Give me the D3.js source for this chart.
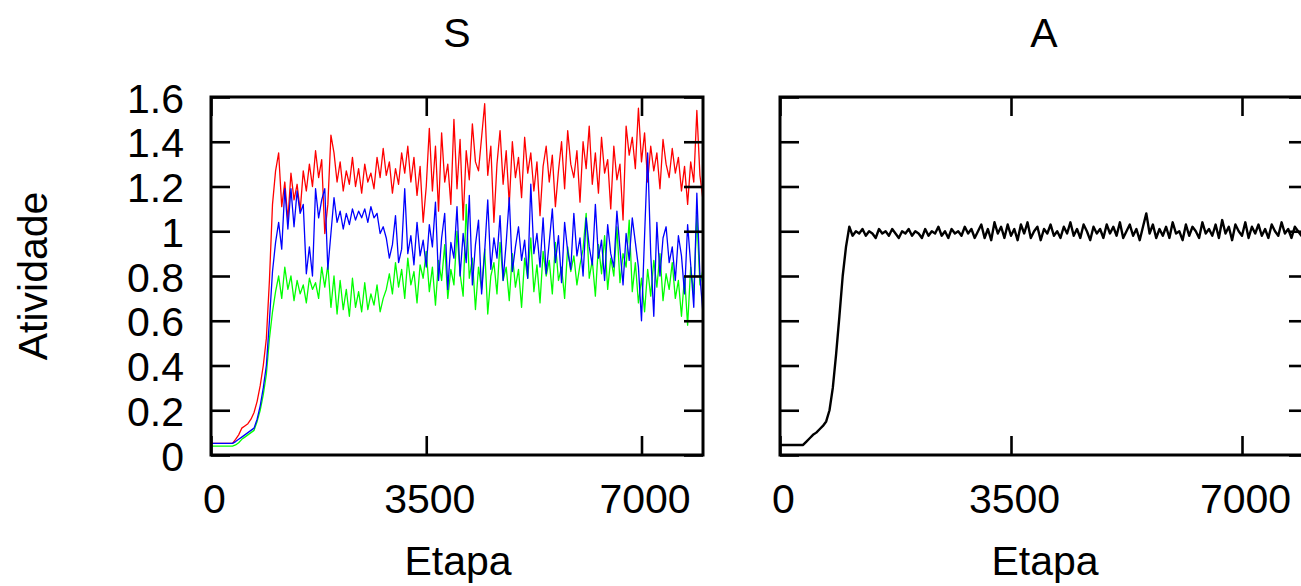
<!DOCTYPE html>
<html>
<head>
<meta charset="utf-8">
<script src="https://cdn.jsdelivr.net/npm/d3@7"></script>
<style>
	body { margin: 0; background: #fff; }
	text { font-family: 'Liberation Sans', Arial, sans-serif; }
</style>
</head>
<body>
<svg id="chart"></svg>
<script>
// Etapa sampled every 50 steps, 0 .. 8000
var etapaStep = 50;
var xTicks = [0, 3500, 7000];
var yTicks = [0, 0.2, 0.4, 0.6, 0.8, 1, 1.2, 1.4, 1.6];
var titles = ["S", "A"];

// panel S
var sRed = [0.052, 0.052, 0.052, 0.052, 0.052, 0.052, 0.052, 0.052, 0.07, 0.09,
	0.12, 0.13, 0.14, 0.16, 0.19, 0.24, 0.31, 0.40, 0.52, 0.78,
	1.12, 1.27, 1.35, 1.11, 1.22, 1.05, 1.26, 1.14, 1.21, 1.09,
	1.27, 1.18, 1.30, 1.20, 1.36, 1.24, 1.32, 0.99, 1.12, 1.43,
	1.35, 1.22, 1.31, 1.18, 1.27, 1.21, 1.33, 1.20, 1.28, 1.17,
	1.30, 1.22, 1.26, 1.19, 1.33, 1.24, 1.37, 1.25, 1.31, 1.17,
	1.28, 1.21, 1.35, 1.26, 1.38, 1.22, 1.33, 1.16, 1.29, 1.04,
	1.20, 1.46, 1.18, 1.38, 1.09, 1.44, 1.22, 1.30, 1.12, 1.50,
	1.19, 1.41, 1.05, 1.36, 1.23, 1.48, 1.31, 1.27, 1.42, 1.57,
	1.25, 1.38, 1.04, 1.30, 1.45, 1.21, 1.36, 1.12, 1.40, 1.24,
	1.33, 1.15, 1.42, 1.26, 1.35, 1.18, 1.31, 1.07, 1.29, 1.38,
	1.22, 1.34, 1.11, 1.27, 1.40, 1.19, 1.45, 1.30, 1.24, 1.36,
	1.13, 1.40, 1.28, 1.47, 1.21, 1.35, 1.17, 1.42, 1.26, 1.32,
	1.10, 1.38, 1.23, 1.30, 1.05, 1.47, 1.34, 1.42, 1.28, 1.55,
	1.31, 1.44, 1.22, 1.38, 1.27, 1.35, 1.19, 1.41, 1.30, 1.24,
	1.37, 1.26, 1.33, 1.18, 1.29, 1.12, 1.31, 1.22, 1.54, 1.25,
	1.14];

var sGreen = [0.040, 0.040, 0.040, 0.040, 0.040, 0.040, 0.040, 0.040, 0.045, 0.055,
	0.07, 0.08, 0.09, 0.10, 0.11, 0.15, 0.20, 0.27, 0.36, 0.52,
	0.64, 0.73, 0.80, 0.70, 0.84, 0.74, 0.80, 0.69, 0.78, 0.72,
	0.76, 0.68, 0.79, 0.74, 0.77, 0.70, 0.84, 0.75, 0.85, 0.66,
	0.80, 0.63, 0.78, 0.65, 0.74, 0.62, 0.79, 0.66, 0.73, 0.64,
	0.77, 0.65, 0.72, 0.67, 0.76, 0.64, 0.70, 0.74, 0.81, 0.72,
	0.86, 0.75, 0.83, 0.70, 0.88, 0.76, 0.82, 0.68, 0.85, 0.79,
	0.91, 0.73, 0.84, 0.67, 0.87, 0.78, 0.94, 0.70, 0.83, 0.76,
	1.00, 0.81, 0.71, 1.12, 0.79, 0.88, 0.65, 0.84, 0.74, 0.92,
	0.63, 0.80, 0.86, 0.72, 0.95, 0.78, 0.84, 0.69, 0.90, 0.75,
	0.83, 0.66, 0.88, 0.79, 0.97, 0.73, 0.85, 0.68, 0.91, 0.80,
	0.87, 0.72, 0.95, 0.78, 0.84, 0.70, 0.93, 0.82, 0.89, 0.76,
	0.85, 0.92, 1.08, 0.79, 0.87, 0.71, 0.94, 0.81, 0.98, 0.74,
	0.88, 0.80, 1.02, 0.77, 0.90, 0.84, 1.05, 0.73, 0.86, 0.68,
	0.79, 0.64, 0.83, 0.71, 0.87, 0.75, 0.90, 0.69, 0.81, 0.74,
	0.86, 0.70, 0.78, 0.62, 0.80, 0.58, 0.84, 0.72, 1.07, 0.76,
	0.83];

var sBlue = [0.052, 0.052, 0.052, 0.052, 0.052, 0.052, 0.052, 0.052, 0.06, 0.07,
	0.08, 0.09, 0.10, 0.11, 0.12, 0.16, 0.22, 0.30, 0.40, 0.60,
	0.82, 0.95, 1.04, 0.92, 1.19, 1.01, 1.19, 1.02, 1.18, 1.08,
	1.12, 0.81, 0.93, 0.80, 1.19, 1.06, 1.14, 1.19, 0.83, 0.99,
	1.15, 1.04, 1.09, 1.01, 1.08, 1.03, 1.10, 1.05, 1.09, 1.06,
	1.10, 1.04, 1.11, 1.06, 1.08, 0.99, 1.02, 0.97, 0.88, 0.94,
	1.07, 0.86, 0.92, 1.19, 0.90, 0.98, 0.85, 1.04, 0.89, 0.96,
	0.84, 1.03, 0.93, 1.13, 0.78, 0.97, 1.08, 0.74, 0.95, 0.88,
	1.11, 0.80, 0.99, 0.86, 1.16, 0.76, 0.94, 1.05, 0.72, 0.91,
	1.14, 0.83, 0.97, 0.88, 1.07, 0.78, 0.95, 1.15, 0.82, 0.93,
	1.02, 0.87, 0.96, 0.79, 1.21, 0.90, 0.99, 0.84, 1.06, 0.81,
	0.95, 1.10, 0.86, 0.98, 0.77, 1.04, 0.91, 0.83, 1.08, 0.89,
	0.97, 0.80, 1.06, 0.93, 0.85, 1.12, 0.88, 0.96, 0.78, 1.03,
	0.90, 0.84, 1.09, 0.92, 0.76, 0.99, 0.87, 1.06, 0.95, 0.84,
	0.60, 0.98, 1.35, 0.90, 0.62, 1.04, 0.80, 0.97, 1.02, 0.86,
	0.93, 0.78, 0.98, 0.89, 0.72, 1.03, 0.85, 0.66, 1.17, 0.80,
	0.63];

// panel A
var aBlack = [0.045, 0.045, 0.045, 0.045, 0.045, 0.045, 0.045, 0.045, 0.060, 0.075,
	0.090, 0.100, 0.115, 0.130, 0.150, 0.200, 0.300, 0.450, 0.620, 0.800,
	0.930, 1.02, 0.98, 1.00, 0.99, 1.01, 0.98, 1.00, 0.99, 0.97,
	1.01, 0.99, 1.00, 0.98, 1.01, 0.99, 0.97, 1.00, 0.99, 1.01,
	0.98, 1.00, 0.99, 0.97, 1.01, 0.98, 1.00, 0.99, 1.02, 0.98,
	1.00, 0.97, 1.01, 0.99, 1.00, 0.98, 1.02, 0.99, 1.01, 0.97,
	1.00, 1.03, 0.97, 1.01, 0.96, 1.04, 0.99, 1.02, 0.97, 1.03,
	0.98, 1.01, 0.96, 1.03, 0.99, 1.04, 0.97, 1.00, 1.02, 0.96,
	1.01, 0.99, 1.03, 0.98, 1.00, 0.97, 1.02, 0.99, 1.04, 0.98,
	1.01, 0.97, 1.03, 1.00, 0.96, 1.02, 0.99, 1.01, 0.97, 1.03,
	0.99, 1.02, 0.98, 1.04, 0.97, 1.00, 1.03, 0.98, 1.01, 0.96,
	1.02, 1.08, 0.99, 1.03, 0.97, 1.01, 0.98, 1.02, 0.97, 1.04,
	0.99, 1.00, 0.96, 1.03, 0.98, 1.02, 1.00, 0.97, 1.04, 0.99,
	1.01, 0.98, 1.03, 0.97, 1.05, 0.99, 1.02, 0.96, 1.03, 1.00,
	0.98, 1.04, 0.97, 1.02, 0.99, 1.03, 0.98, 1.01, 0.97, 1.03,
	1.00, 0.98, 1.04, 0.99, 1.01, 0.97, 1.02, 1.00, 0.98, 1.03,
	0.99];

var width = 1301, height = 586;
var svg = d3.select("#chart").attr("width", width).attr("height", height);

var plotTop = 97, plotBottom = 455, tick = 19;
var fontSize = 41;

var y = d3.scaleLinear().domain([0, 1.6]).range([plotBottom, plotTop]);

var panels = [
	{ title: titles[0], left: 211, right: 703, series: [[sRed, "#ff0000"], [sGreen, "#00ff00"], [sBlue, "#0000ff"]], lw: 1.3, ylabels: true },
	{ title: titles[1], left: 780, right: 1308, series: [[aBlack, "#000000"]], lw: 2.4, ylabels: false }
];

panels.forEach(function (p, k) {
	var x = d3.scaleLinear().domain([0, 8000]).range([p.left, p.right]);
	var g = svg.append("g");

	svg.append("clipPath").attr("id", "clip" + k)
		.append("rect")
		.attr("x", p.left).attr("y", plotTop)
		.attr("width", p.right - p.left).attr("height", plotBottom - plotTop);

	// lines
	var line = d3.line()
		.x(function (d, i) { return x(i * etapaStep); })
		.y(function (d) { return y(d); });

	p.series.forEach(function (s) {
		g.append("path")
			.attr("clip-path", "url(#clip" + k + ")")
			.attr("d", line(s[0]))
			.attr("fill", "none")
			.attr("stroke", s[1])
			.attr("stroke-width", p.lw)
			.attr("stroke-linejoin", "round");
	});

	// axes, ticks drawn inward on all four sides
	var xb = g.append("g").attr("transform", "translate(0," + plotBottom + ")")
		.call(d3.axisBottom(x).tickValues(xTicks).tickSize(-tick).tickPadding(29).tickFormat(d3.format("d")));
	var xt = g.append("g").attr("transform", "translate(0," + plotTop + ")")
		.call(d3.axisTop(x).tickValues(xTicks).tickSize(-tick).tickFormat(""));
	var yl = g.append("g").attr("transform", "translate(" + p.left + ",0)")
		.call(d3.axisLeft(y).tickValues(yTicks).tickSize(-tick).tickPadding(27)
			.tickFormat(p.ylabels ? function (d) { return d3.format("~g")(d); } : ""));
	var yr = g.append("g").attr("transform", "translate(" + p.right + ",0)")
		.call(d3.axisRight(y).tickValues(yTicks).tickSize(-tick).tickFormat(""));

	[xb, xt, yl, yr].forEach(function (a) {
		a.select(".domain").remove();
		a.selectAll(".tick line").attr("stroke", "#000").attr("stroke-width", 2.6);
		a.selectAll(".tick text")
			.attr("fill", "#000")
			.style("font-size", fontSize + "px")
			.style("font-family", "'Liberation Sans', Arial, sans-serif");
	});
	xb.selectAll(".tick text").attr("dx", 3);
	yl.selectAll(".tick text").attr("dy", "0.37em");

	// frame
	g.append("rect")
		.attr("x", p.left).attr("y", plotTop)
		.attr("width", p.right - p.left).attr("height", plotBottom - plotTop)
		.attr("fill", "none")
		.attr("stroke", "#000")
		.attr("stroke-width", 3);

	// title + x label
	var cx = (p.left + p.right) / 2;
	g.append("text").attr("x", cx).attr("y", 47)
		.attr("text-anchor", "middle").attr("font-size", fontSize).text(p.title);
	g.append("text").attr("x", cx + 1).attr("y", 575)
		.attr("text-anchor", "middle").attr("font-size", fontSize).text("Etapa");
});

svg.append("text")
	.attr("transform", "translate(47,276) rotate(-90)")
	.attr("text-anchor", "middle")
	.attr("font-size", fontSize)
	.text("Atividade");
</script>
</body>
</html>
